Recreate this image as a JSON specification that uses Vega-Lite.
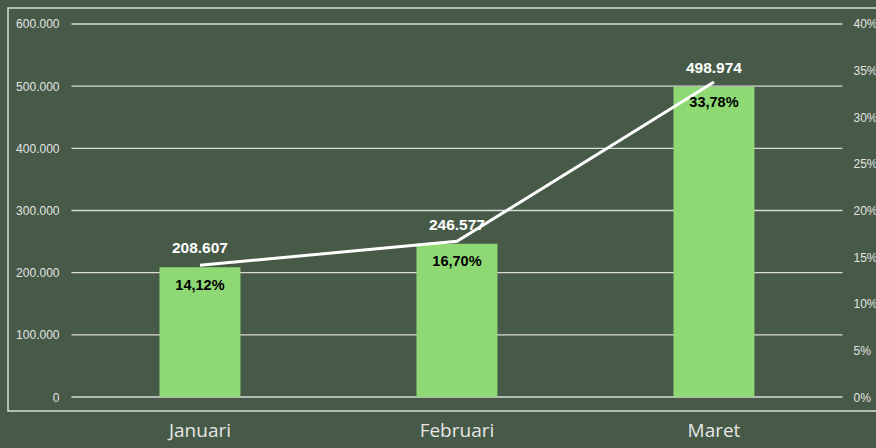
{
  "$schema": "https://vega.github.io/schema/vega-lite/v6.json",
  "width": 870,
  "height": 403,
  "autosize": {"type": "none"},
  "padding": {"left": 8, "top": 8, "right": 0, "bottom": 37},
  "background": "#475a47",
  "config": {
    "view": {"stroke": "#dcdcdc", "strokeWidth": 1.5},
    "locale": {"number": {"decimal": ",", "thousands": ".", "grouping": [3], "currency": ["", ""]}},
    "font": "Liberation Sans"
  },
  "data": {
    "values": [
      {"month": "Januari", "value": 208607, "pct": 0.1412},
      {"month": "Februari", "value": 246577, "pct": 0.1670},
      {"month": "Maret", "value": 498974, "pct": 0.3378}
    ]
  },
  "encoding": {
    "x": {
      "field": "month",
      "type": "nominal",
      "sort": null,
      "scale": {"type": "band", "domain": ["Januari", "Februari", "Maret"], "paddingInner": 0, "paddingOuter": 0.1926, "align": 0.641},
      "axis": {"title": null, "domain": false, "ticks": false, "labelAngle": 0, "labelPadding": 10, "labelFontSize": 19, "labelFont": "Open Sans", "labelFontWeight": "normal", "labelColor": "#e6e6e6"}
    }
  },
  "layer": [
    {
      "layer": [
        {
          "data": {"values": [{"tick": 0}, {"tick": 100000}, {"tick": 200000}, {"tick": 300000}, {"tick": 400000}, {"tick": 500000}, {"tick": 600000}]},
          "mark": {"type": "rule", "color": "#dadada", "strokeWidth": 1.3},
          "encoding": {
            "x": {"datum": "Januari", "bandPosition": 0},
            "x2": {"datum": "Maret", "bandPosition": 1},
            "y": {
              "field": "tick",
              "type": "quantitative",
              "scale": {"domain": [-22520, 625737], "nice": false, "zero": false},
              "axis": {"title": null, "orient": "left", "offset": -64, "values": [0, 100000, 200000, 300000, 400000, 500000, 600000], "format": ",d", "grid": false, "domain": false, "ticks": false, "labelPadding": 13, "labelFontSize": 12, "labelColor": "#e3e3e3", "labelFont": "Liberation Sans"}
            }
          }
        },
        {
          "mark": {"type": "bar", "color": "#8ed973", "width": {"band": 0.315}},
          "encoding": {
            "y": {
              "field": "value",
              "type": "quantitative",
              "scale": {"domain": [-22520, 625737], "nice": false, "zero": false},
              "axis": {"title": null, "orient": "left", "offset": -64, "values": [0, 100000, 200000, 300000, 400000, 500000, 600000], "format": ",d", "grid": false, "domain": false, "ticks": false, "labelPadding": 13, "labelFontSize": 12, "labelColor": "#e3e3e3", "labelFont": "Liberation Sans"}
            }
          }
        },
        {
          "mark": {"type": "text", "color": "#ffffff", "fontWeight": "bold", "fontSize": 15.5, "baseline": "middle", "dy": -19},
          "encoding": {
            "y": {"field": "value", "type": "quantitative"},
            "text": {"field": "value", "type": "quantitative", "format": ",d"}
          }
        }
      ]
    },
    {
      "layer": [
        {
          "mark": {"type": "line", "color": "#ffffff", "strokeWidth": 3},
          "encoding": {
            "y": {
              "field": "pct",
              "type": "quantitative",
              "scale": {"domain": [-0.015013, 0.417158], "nice": false, "zero": false},
              "axis": {"title": null, "orient": "right", "offset": -35, "values": [0, 0.05, 0.1, 0.15, 0.2, 0.25, 0.3, 0.35, 0.4], "format": ".0%", "grid": false, "domain": false, "ticks": false, "labelPadding": 10, "labelFontSize": 12, "labelColor": "#e3e3e3", "labelFont": "Liberation Sans"}
            }
          }
        },
        {
          "mark": {"type": "text", "color": "#000000", "fontWeight": "bold", "fontSize": 14.5, "baseline": "middle", "dy": 21},
          "encoding": {
            "y": {"field": "pct", "type": "quantitative"},
            "text": {"field": "pct", "type": "quantitative", "format": ".2%"}
          }
        }
      ]
    }
  ],
  "resolve": {"scale": {"y": "independent"}}
}
